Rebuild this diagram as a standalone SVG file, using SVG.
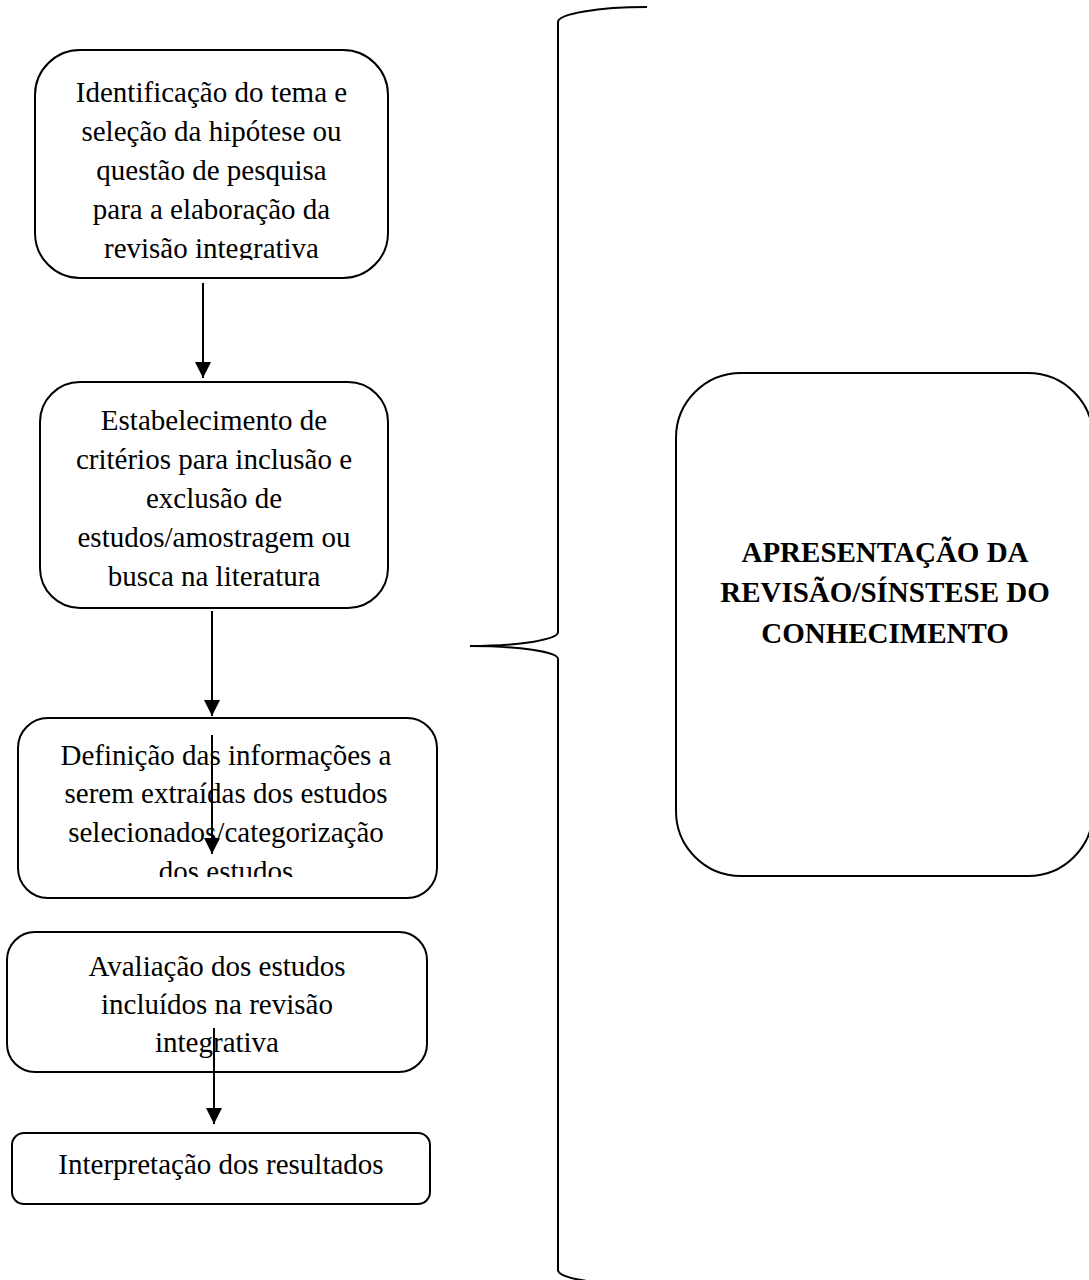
<svg xmlns="http://www.w3.org/2000/svg" width="1089" height="1280" viewBox="0 0 1089 1280">
<style>
.box{fill:#fff;stroke:#000;stroke-width:2}
.t{font-family:"Liberation Serif","Times New Roman",serif;font-size:29px;fill:#000;text-anchor:middle}
.b{font-weight:bold}
.c{fill:none;stroke:#000;stroke-width:2}
</style>
<defs>
<marker id="ah" viewBox="0 0 16 16" refX="16" refY="8" markerWidth="16" markerHeight="16" markerUnits="userSpaceOnUse" orient="auto">
<path d="M0,0 L16,8 L0,16 Z" fill="#000"/>
</marker>
<clipPath id="cl1"><rect x="0" y="0" width="500" height="260"/></clipPath>
<clipPath id="cl3"><rect x="0" y="700" width="500" height="177"/></clipPath>
</defs>
<rect width="1089" height="1280" fill="#fff"/>
<g id="n1">
<rect class="box" x="35" y="50" width="353" height="228" rx="45"/>
<g clip-path="url(#cl1)">
<text class="t" x="211.5" y="102">Identificação do tema e</text>
<text class="t" x="211.5" y="141">seleção da hipótese ou</text>
<text class="t" x="211.5" y="180">questão de pesquisa</text>
<text class="t" x="211.5" y="219">para a elaboração da</text>
<text class="t" x="211.5" y="258">revisão integrativa</text>
</g>
</g>
<g id="n2">
<rect class="box" x="40" y="382" width="348" height="226" rx="40"/>
<text class="t" x="214" y="430">Estabelecimento de</text>
<text class="t" x="214" y="469">critérios para inclusão e</text>
<text class="t" x="214" y="508">exclusão de</text>
<text class="t" x="214" y="547">estudos/amostragem ou</text>
<text class="t" x="214" y="586">busca na literatura</text>
</g>
<g id="n3">
<rect class="box" x="18" y="718" width="419" height="180" rx="30"/>
<g clip-path="url(#cl3)">
<text class="t" x="226" y="765">Definição das informações a</text>
<text class="t" x="226" y="803">serem extraídas dos estudos</text>
<text class="t" x="226" y="842">selecionados/categorização</text>
<text class="t" x="226" y="881">dos estudos</text>
</g>
</g>
<g id="n4">
<rect class="box" x="7" y="932" width="420" height="140" rx="28"/>
<text class="t" x="217" y="976">Avaliação dos estudos</text>
<text class="t" x="217" y="1014">incluídos na revisão</text>
<text class="t" x="217" y="1052">integrativa</text>
</g>
<g id="n5">
<rect class="box" x="12" y="1133" width="418" height="71" rx="12"/>
<text class="t" x="221" y="1174">Interpretação dos resultados</text>
</g>
<g id="n6">
<rect class="box" x="676" y="373" width="417" height="503" rx="65"/>
<text class="t b" x="885" y="562">APRESENTAÇÃO DA</text>
<text class="t b" x="885" y="602">REVISÃO/SÍNSTESE DO</text>
<text class="t b" x="885" y="643">CONHECIMENTO</text>
</g>
<g id="brace">
<path class="c" d="M647,7 A89,15 0 0 0 558,22 L558,632 A88,14 0 0 1 470,646 A88,13 0 0 1 558,659 L558,1270 A89,15 0 0 0 647,1285"/>
</g>
<g id="connectors">
<line class="c" x1="203" y1="283" x2="203" y2="378" marker-end="url(#ah)"/>
<line class="c" x1="212" y1="611" x2="212" y2="716" marker-end="url(#ah)"/>
<line class="c" x1="212" y1="735" x2="212" y2="854" marker-end="url(#ah)"/>
<line class="c" x1="214" y1="1028" x2="214" y2="1124" marker-end="url(#ah)"/>
</g>
</svg>
